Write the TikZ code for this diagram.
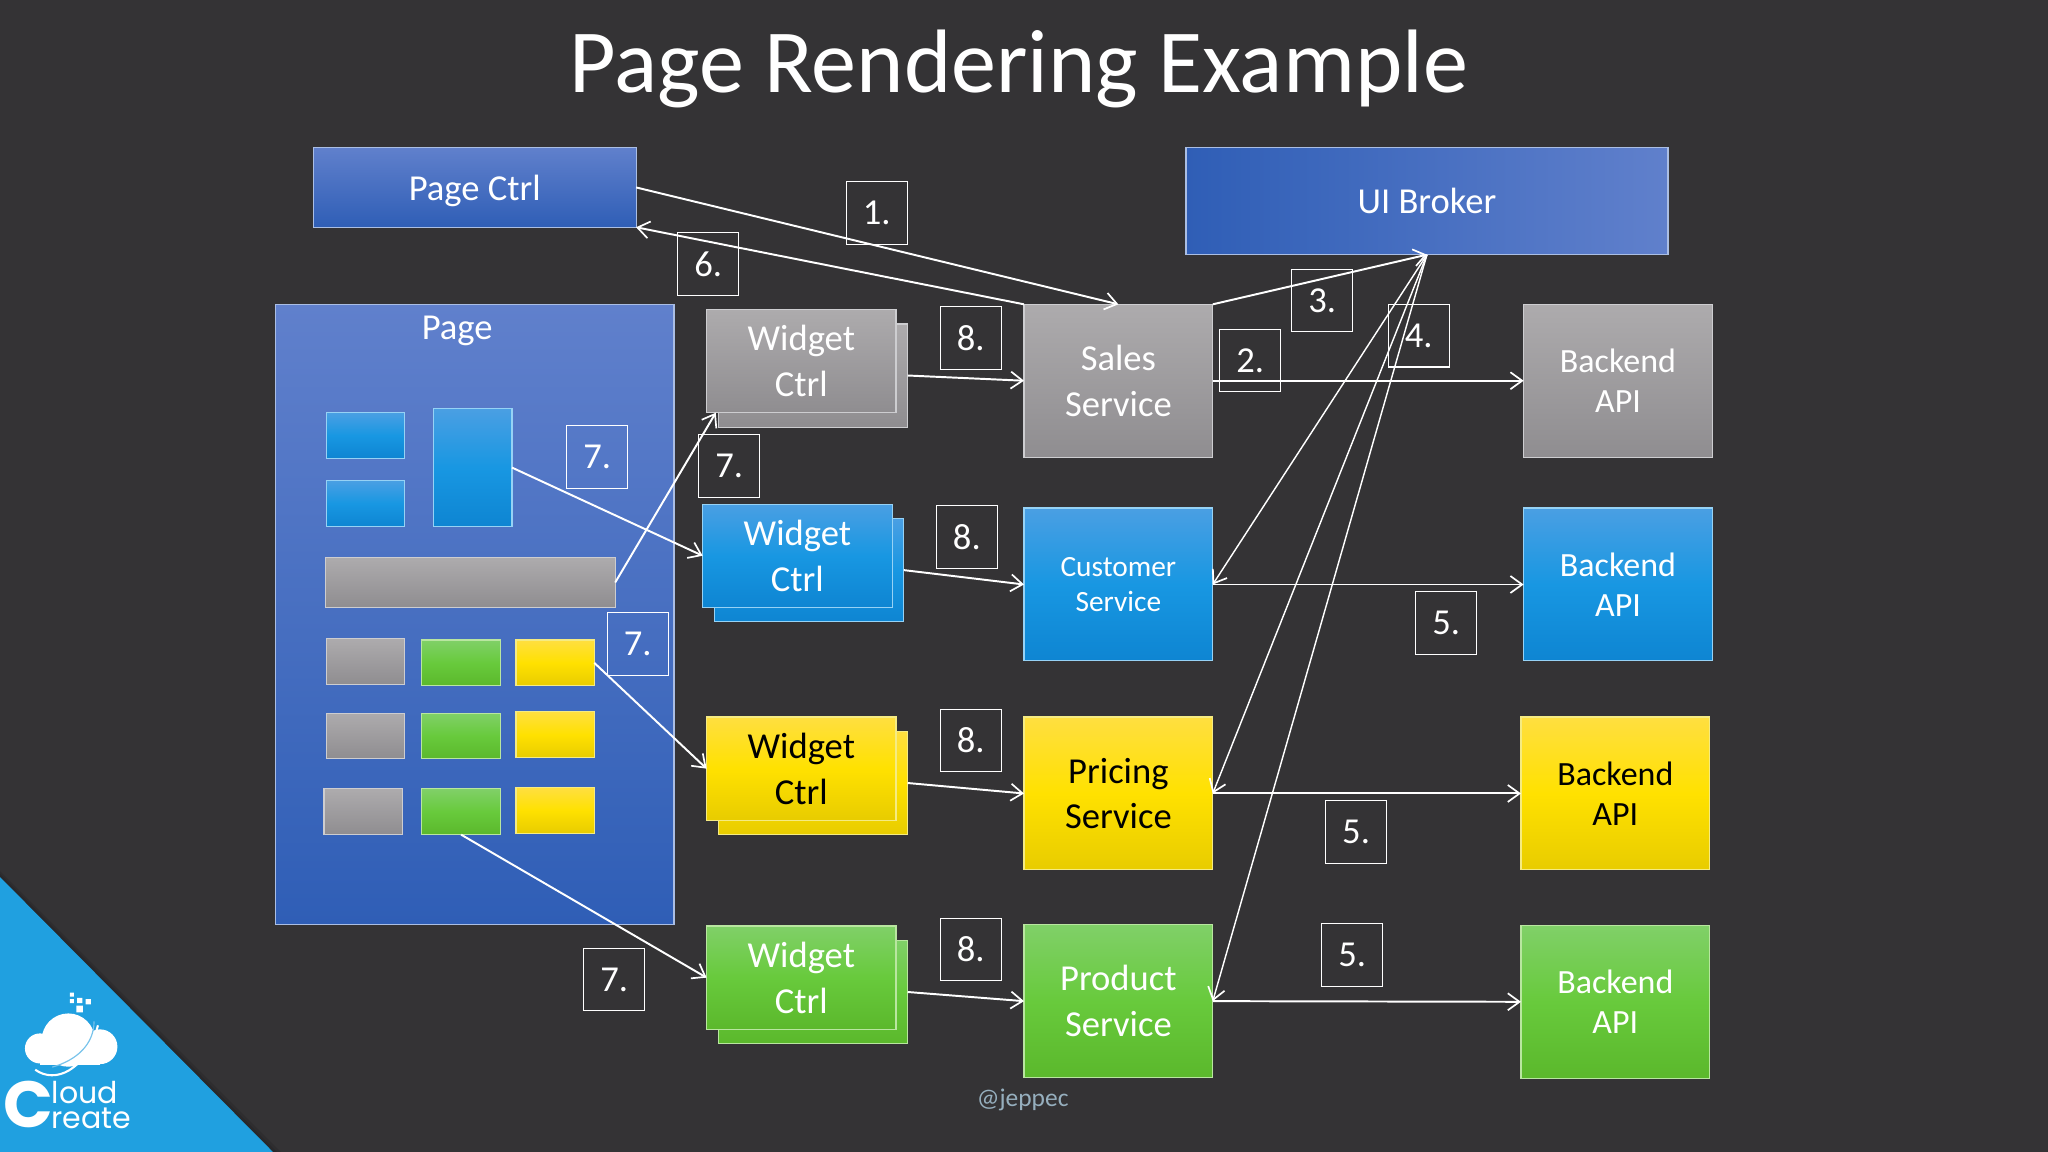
\documentclass[tikz,border=0pt]{standalone}
\usepackage{fontspec}
\setmainfont{Carlito}
\newfontfamily\logofont{Poppins}
\usetikzlibrary{positioning,arrows.meta}
\newcommand{\svcwidth}{144.5pt}
\newcommand{\svcheight}{117pt}
\newcommand{\wdgwidth}{145pt}
\newcommand{\wdgheight}{79pt}
\newcommand{\cellwidth}{60pt}
\newcommand{\cellheight}{35pt}
\newcommand{\fsize}[2]{\fontsize{#1}{#2}\selectfont}
\definecolor{slide}{HTML}{343335}
\definecolor{navytop}{HTML}{6080CC}
\definecolor{navybot}{HTML}{2F5EB6}
\definecolor{navyline}{HTML}{AABEE4}
\definecolor{graytop}{HTML}{ADABAD}
\definecolor{graybot}{HTML}{8F8D90}
\definecolor{grayline}{HTML}{CDCDD0}
\definecolor{bluetop}{HTML}{4A9FE3}
\definecolor{bluemid}{HTML}{1897E2}
\definecolor{bluebot}{HTML}{0E85D2}
\definecolor{blueline}{HTML}{96D2F5}
\definecolor{yellowtop}{HTML}{FFDF40}
\definecolor{yellowmid}{HTML}{FFE100}
\definecolor{yellowbot}{HTML}{E8CC00}
\definecolor{yellowline}{HTML}{F5EB82}
\definecolor{greentop}{HTML}{80D068}
\definecolor{greenmid}{HTML}{68CA3C}
\definecolor{greenbot}{HTML}{5BB82C}
\definecolor{greenline}{HTML}{B9E6A0}
\definecolor{logoblue}{HTML}{20A0E0}
\definecolor{logoring}{HTML}{78C3EB}
\definecolor{handletext}{HTML}{96AFBE}
\tikzstyle{box}=[shape=rectangle,inner sep=0pt,outer sep=0pt,line width=0.9pt,align=center,
                 text=white,font=\fsize{28}{35}]
\tikzset{
  cgray/.style={draw=grayline,top color=graytop,bottom color=graybot},
  cblue/.style={draw=blueline,top color=bluetop,bottom color=bluebot,middle color=bluemid},
  cyellow/.style={draw=yellowline,top color=yellowtop,bottom color=yellowbot,middle color=yellowmid,text=black},
  cgreen/.style={draw=greenline,top color=greentop,bottom color=greenbot,middle color=greenmid},
  cnavy/.style={draw=navyline,top color=navytop,bottom color=navybot},
  svc/.style={box,minimum width=\svcwidth,minimum height=\svcheight},
  wdg/.style={box,minimum width=\wdgwidth,minimum height=\wdgheight},
  cell/.style={box,anchor=north west,minimum width=\cellwidth,minimum height=\cellheight},
  numbox/.style={shape=rectangle,draw=white,line width=0.8pt,inner sep=0pt,outer sep=0pt,anchor=north west,
                 minimum width=46.5pt,minimum height=48pt,text=white,font=\fsize{28}{35}},
  flow/.style={draw=white,line width=1.5pt,-{Straight Barb[length=9pt,width=13pt,line width=1.3pt]}},
  thinflow/.style={flow,line width=1.1pt},
}
\begin{document}
\begin{tikzpicture}[x=1pt,y=-1pt]
\useasboundingbox (0,0) rectangle (1568,882);
\fill [slide] (0,0) rectangle (1568,882);

\node [text=white,font=\fsize{69}{80}] (title) at (780,53) {Page Rendering Example};

% top row
\node [box,cnavy,anchor=north west,minimum width=247pt,minimum height=61pt,text depth=0pt] (pagectrl) at (240,113) {Page Ctrl};
\node [box,anchor=north west,minimum width=369pt,minimum height=82pt,draw=navyline,
       left color=navybot,right color=navytop] (broker) at (908,113) {UI Broker};

% page
\node [box,cnavy,anchor=north west,minimum width=305pt,minimum height=475pt] (page) at (211,233) {};
\node [text=white,font=\fsize{28}{35}] (pagelabel) at (350,253) {Page};
\node [cell,cblue] (pa) at (250,316) {};
\node [cell,cblue] (pb) at (250,368) {};
\node [cell,cblue,minimum height=90pt] (pc) at (332,313) {};
\node [cell,cgray,minimum width=222pt,minimum height=38pt] (pbar) at (249,427) {};
\node [cell,cgray] (r1a) at (250,489) {};
\node [cell,cgreen] (r1b) at (323,490) {};
\node [cell,cyellow] (r1c) at (395,490) {};
\node [cell,cgray] (r2a) at (250,546) {};
\node [cell,cgreen] (r2b) at (323,546) {};
\node [cell,cyellow] (r2c) at (395,545) {};
\node [cell,cgray] (r3a) at (248,604) {};
\node [cell,cgreen] (r3b) at (323,604) {};
\node [cell,cyellow] (r3c) at (395,603) {};

% widgets
\node [wdg,cgray,anchor=north west] (wgrayb) at (550,248) {};
\node [wdg,cgray,anchor=north west] (wgray) at (541,237) {Widget\\Ctrl};
\node [wdg,cblue,anchor=north west] (wblueb) at (547,397) {};
\node [wdg,cblue,anchor=north west] (wblue) at (538,386) {Widget\\Ctrl};
\node [wdg,cyellow,anchor=north west] (wyellowb) at (550,560) {};
\node [wdg,cyellow,anchor=north west] (wyellow) at (541,549) {Widget\\Ctrl};
\node [wdg,cgreen,anchor=north west] (wgreenb) at (550,720) {};
\node [wdg,cgreen,anchor=north west] (wgreen) at (541,709) {Widget\\Ctrl};
\coordinate [right=7pt of wgray.south west] (wgraytip);

% services
\node [svc,cgray,anchor=north west] (sales) at (784,233) {Sales\\Service};
\node [svc,cblue,below=39pt of sales,font=\fsize{22.5}{27}] (customer) {Customer\\Service};
\node [svc,cyellow,below=43pt of customer] (pricing) {Pricing\\Service};
\node [svc,cgreen,below=42pt of pricing] (product) {Product\\Service};

% backends
\node [svc,cgray,right=238pt of sales,font=\fsize{26}{31}] (apigray) {Backend\\API};
\node [svc,cblue,right=238pt of customer,font=\fsize{26}{31}] (apiblue) {Backend\\API};
\node [svc,cyellow,right=236pt of pricing,font=\fsize{26}{31}] (apiyellow) {Backend\\API};
\node [svc,cgreen,right=236pt of product,yshift=-0.5pt,font=\fsize{26}{31}] (apigreen) {Backend\\API};

% arrows
\draw [flow] (pagectrl.east) -- (sales.north);
\draw [flow] (sales.north west) -- (pagectrl.south east);
\draw [flow] (pc.east) -- (wblue.west);
\draw [flow] (pbar.east) -- (wgraytip);
\draw [flow] (r1c.east) -- (wyellow.west);
\draw [flow] (r3b.south) -- (wgreen.west);
\draw [flow] (wgrayb.east) -- (sales.west);
\draw [flow] (wblueb.east) -- (customer.west);
\draw [flow] (wyellowb.east) -- (pricing.west);
\draw [flow] (wgreenb.east) -- (product.west);
\draw [flow] (sales.north east) -- (broker.south);
\draw [flow] (sales.east) -- (apigray.west);
\draw [flow] (customer.east) -- (apiblue.west);
\draw [flow] (pricing.east) -- (apiyellow.west);
\draw [flow] (product.east) -- (apigreen.west);
\draw [thinflow] (broker.south) -- (customer.east);
\draw [thinflow] (broker.south) -- (pricing.east);
\draw [thinflow] (broker.south) -- (product.east);

% step numbers
\node [numbox] (n1) at (648,139) {1.};
\node [numbox] (n2) at (934,252) {2.};
\node [numbox] (n3) at (989,206) {3.};
\node [numbox] (n4) at (1063,233) {4.};
\node [numbox] (n5a) at (1084,453) {5.};
\node [numbox] (n5b) at (1015,613) {5.};
\node [numbox] (n5c) at (1012,707) {5.};
\node [numbox] (n6) at (519,178) {6.};
\node [numbox] (n7a) at (434,326) {7.};
\node [numbox] (n7b) at (535,333) {7.};
\node [numbox] (n7c) at (465,469) {7.};
\node [numbox] (n7d) at (447,726) {7.};
\node [numbox] (n8a) at (720,235) {8.};
\node [numbox] (n8b) at (717,387) {8.};
\node [numbox] (n8c) at (720,543) {8.};
\node [numbox] (n8d) at (720,703) {8.};

\node [text=handletext,font=\fsize{19.5}{23}] (handle) at (783,842) {@jeppec};

% logo corner
\fill [black,opacity=0.10] (0,667) -- (215,882) -- (0,882) -- cycle;
\fill [black,opacity=0.10] (0,669) -- (212,882) -- (0,882) -- cycle;
\fill [logoblue] (0,671.5) -- (209,882) -- (0,882) -- cycle;
\fill [white] (52.3,796.3) circle (20.4) (30.6,802.7) circle (11.5) (76.6,801.4) circle (13.3);
\fill [white] (30.6,802) rectangle (76.6,815.4);
\draw [white,line width=1.6pt] (27,819) .. controls (42,830) and (66,820) .. (75,785);
\draw [logoring,line width=0.9pt] (72,782) .. controls (72,800) and (58,812) .. (40,817);
\fill [white] (53.5,760) rectangle +(3,3) (53.5,765) rectangle +(3,3) (59,764) rectangle +(4,4)
              (65.5,765) rectangle +(4,4) (58.5,770) rectangle +(5,5);
\node [anchor=base,text=white,font=\fsize{50}{50}\logofont\bfseries,inner sep=0pt] (logoc) at (22,863.6) {C};
\node [anchor=base,text=white,font=\fsize{23}{23}\logofont,inner sep=0pt] (logoa) at (65,845) {loud};
\node [anchor=base,text=white,font=\fsize{23}{23}\logofont,inner sep=0pt] (logob) at (70,864) {reate};
\end{tikzpicture}
\end{document}
